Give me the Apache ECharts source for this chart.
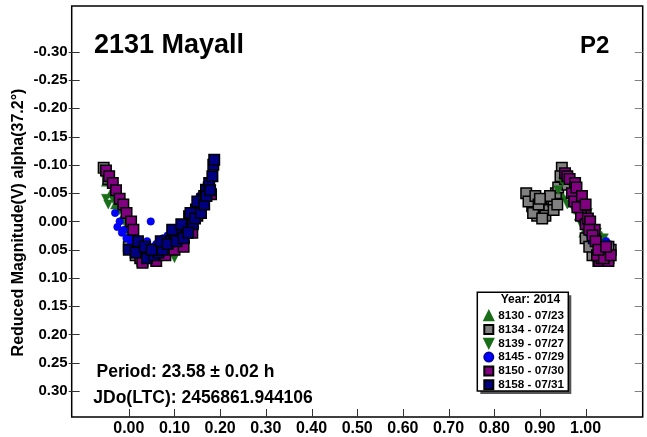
<!DOCTYPE html>
<html><head><meta charset="utf-8">
<script src="https://cdn.jsdelivr.net/npm/echarts@6/dist/echarts.min.js"></script>
<style>html,body{margin:0;padding:0;background:#fff}#c{width:647px;height:437px}</style>
</head><body><div id="c"></div>
<script>
const FONT = "'Liberation Sans', Arial, sans-serif";
const xTicks = [0.00, 0.10, 0.20, 0.30, 0.40, 0.50, 0.60, 0.70, 0.80, 0.90, 1.00];
const yTicks = [-0.30, -0.25, -0.20, -0.15, -0.10, -0.05, 0.00, 0.05, 0.10, 0.15, 0.20, 0.25, 0.30];
const seriesNames = ["8130 - 07/23", "8134 - 07/24", "8139 - 07/27", "8145 - 07/29", "8150 - 07/30", "8158 - 07/31"];

const s8130 = [[-0.05,-0.07],[-0.04,-0.05],[-0.03,-0.03],[-0.015,-0.005],[0.0,0.02],[0.01,0.04],[0.02,0.03],[0.03,0.05],[0.045,0.04],
  [0.935,-0.045],[0.945,-0.065],[0.955,-0.08],[0.965,-0.07],[0.975,-0.055],[0.985,-0.03],[0.995,-0.01],[1.005,0.01],[1.015,0.02],[1.025,0.035],[1.035,0.045],[1.045,0.04],
  [0.95,-0.045],[0.965,-0.05],[0.985,-0.01],[0.995,0.02],[1.005,0.03],[1.02,0.01],[1.035,0.025],[1.045,0.05]];
const s8134 = [[-0.055,-0.095],[-0.045,-0.075],[0.0,0.045],[0.015,0.06],[0.03,0.07],[0.045,0.06],
  [0.878,-0.04],[0.883,-0.027],[0.888,-0.035],[0.894,-0.01],[0.9,-0.02],[0.905,-0.015],[0.91,-0.025],[0.915,-0.03],[0.92,-0.02],[0.926,-0.04],[0.93,-0.035],[0.935,-0.05],[0.94,-0.06],[0.948,-0.095],[0.955,-0.075],
  [1.01,0.035],[1.02,0.05],[1.03,0.06],[1.04,0.055],[1.05,0.065],[1.055,0.05],
  [0.87,-0.05],[0.875,-0.035],[0.885,-0.015],[0.89,-0.045],[0.897,-0.03],[0.912,-0.01],[0.922,-0.045],[0.945,-0.08],[0.96,-0.065],[1.015,0.06],[1.025,0.04],[1.035,0.05],[1.045,0.06],[1.05,0.045],
  [1.0,0.03],[1.008,0.045],[1.018,0.03],[1.028,0.07],[0.9,-0.04],[0.905,-0.005],[0.93,-0.02],[0.938,-0.03]];
const s8139 = [[-0.055,-0.08],[-0.05,-0.04],[-0.045,-0.03],[-0.035,-0.04],[-0.02,-0.02],[-0.01,0.0],[0.005,0.025],[0.02,0.045],[0.085,0.06],[0.1,0.065],[0.095,0.05],
  [0.94,-0.055],[0.95,-0.07],[0.96,-0.03],[0.97,-0.06],[0.98,-0.045],[0.99,-0.02],[1.0,-0.005],[1.01,0.015],[1.02,0.03],[1.03,0.04],[1.04,0.03],
  [0.975,-0.02],[0.99,0.005],[1.005,-0.015],[1.025,0.02],[1.035,0.06]];
const s8145 = [[-0.03,-0.015],[-0.02,0.0],[-0.01,0.015],[0.0,0.03],[0.01,0.02],[0.02,0.055],[0.035,0.06],[0.048,0.0],[0.06,0.04],[0.07,0.055],[0.08,0.045],[0.09,0.05],[0.1,0.04],[0.11,0.03],[0.12,0.02],[0.13,0.01],[0.14,0.0],[0.15,-0.02],[0.16,-0.03],
  [-0.025,0.01],[-0.015,0.02],[-0.005,0.03],[0.005,0.04],[0.025,0.04],[0.04,0.035],[0.055,0.045],[0.075,0.03],[0.085,0.025],[0.105,0.015],[0.125,0.035],[0.135,-0.01],[0.145,0.01],[0.155,-0.045],[0.165,-0.055],
  [0.995,0.0],[1.0,0.01],[1.005,0.02],[1.01,0.025],[1.015,0.035],[1.02,0.04],[1.025,0.045],[1.03,0.055],[1.04,0.045],[1.045,0.035],[1.05,0.04]];
const s8150 = [[-0.05,-0.09],[-0.043,-0.08],[-0.035,-0.068],[-0.028,-0.055],[-0.02,-0.04],[-0.012,-0.03],[-0.005,-0.015],[0.005,0.0],[0.01,0.015],[0.025,0.065],[0.03,0.073],[0.06,0.07],[0.08,0.06],[0.1,0.05],[0.12,0.045],[0.139,0.02],[0.15,-0.01],[0.165,-0.045],[0.175,-0.06],[0.18,-0.048],
  [0.955,-0.085],[0.96,-0.08],[0.965,-0.075],[0.977,-0.068],[0.985,-0.045],[0.99,-0.035],[0.995,-0.02],[1.0,-0.01],[1.03,0.07],[1.035,0.065],[1.05,0.07],
  [0.97,-0.05],[0.975,-0.035],[0.98,-0.06],[0.99,-0.01],[1.0,0.005],[1.005,-0.005],[1.01,0.0],[1.02,0.015],[1.025,0.06],[1.04,0.065],[1.055,0.06],
  [0.982,-0.025],[0.992,-0.045],[1.0,-0.03],[1.008,0.015],[1.015,0.025],[1.022,0.035],[1.028,0.05],[1.045,0.045]];
const s8158 = [[0.0,0.05],[0.015,0.055],[0.04,0.065],[0.055,0.06],[0.065,0.055],[0.074,0.05],[0.09,0.035],[0.1,0.025],[0.11,0.02],[0.125,0.008],[0.132,-0.009],[0.14,0.005],[0.147,-0.021],[0.155,-0.03],[0.161,-0.039],[0.169,-0.056],[0.176,-0.068],[0.183,-0.08],[0.185,-0.1],[0.187,-0.109],
  [0.02,0.035],[0.035,0.045],[0.05,0.05],[0.07,0.035],[0.085,0.04],[0.095,0.015],[0.105,0.035],[0.115,0.005],[0.12,0.03],[0.13,0.02],[0.135,-0.015],[0.145,-0.005],[0.15,-0.035],[0.158,-0.015],[0.165,-0.03],[0.17,-0.045],[0.178,-0.055]];

const DOWN_TRI = 'path://M0,0 L10,0 L5,10 Z';
const styles = [
  {symbol:'triangle', size:9, color:'#1a6e1a', border:'#1a6e1a', bw:0.5},
  {symbol:'rect', size:10.5, color:'#808080', border:'#000', bw:1.5},
  {symbol:DOWN_TRI, size:9, color:'#1a6e1a', border:'#1a6e1a', bw:0.5},
  {symbol:'circle', size:7.5, color:'#0000ff', border:'#0000aa', bw:0.5},
  {symbol:'rect', size:10.5, color:'#800080', border:'#000', bw:1.5},
  {symbol:'rect', size:10.5, color:'#000080', border:'#000', bw:1.5}
];
const dataSets = [s8130, s8134, s8139, s8145, s8150, s8158];

const chart = echarts.init(document.getElementById('c'), null, {renderer:'canvas'});
const labelStyle = {fontFamily: FONT, fontWeight:'bold', color:'#000'};
const GRID = {left:71.7, top:6, right:4.3, bottom:19.3};
chart.setOption({
  animation:false,
  backgroundColor:'#fff',
  grid:{...GRID, show:true, borderColor:'#000', borderWidth:1.5, backgroundColor:'transparent'},
  xAxis:{type:'value', min:-0.125, max:1.125, position:'bottom',
     axisLine:{show:false, onZero:false}, splitLine:{show:false}, axisTick:{show:false},
     axisLabel:{show:true, customValues:xTicks, margin:4, fontSize:16, ...labelStyle, formatter:v=>v.toFixed(2)}},
  yAxis:{type:'value', inverse:true, min:-0.381, max:0.346, position:'left',
     axisLine:{show:false, onZero:false}, splitLine:{show:false}, axisTick:{show:false},
     axisLabel:{show:true, customValues:yTicks, margin:4, fontSize:15, ...labelStyle, formatter:v=>v.toFixed(2)}},
  legend:{orient:'vertical', left:483.3, top:309.7, padding:0, itemWidth:9, itemHeight:9, itemGap:1.8, z:20,
    data:seriesNames, textStyle:{fontFamily:FONT, fontWeight:'bold', fontSize:11.7, color:'#000', lineHeight:12}},
  series: seriesNames.map((n,i)=>({
    name:n, type:'scatter', data:dataSets[i], symbol:styles[i].symbol, symbolSize:styles[i].size,
    itemStyle:{color:styles[i].color, borderColor:styles[i].border, borderWidth:styles[i].bw, opacity:1},
    z:2+i
  }))
});

// tick marks placed through the axes' own scales
const gl = chart.convertToPixel({xAxisIndex:0}, -0.125);
const gr = chart.convertToPixel({xAxisIndex:0}, 1.125);
const gb = chart.convertToPixel({yAxisIndex:0}, 0.346);
const snap = v => Math.round(v) + 0.5;
const ticks = [];
xTicks.forEach(v => {
  const px = snap(chart.convertToPixel({xAxisIndex:0}, v));
  ticks.push({type:'line', shape:{x1:px, y1:gb, x2:px, y2:gb-8}, style:{stroke:'#333', lineWidth:1}, z:5});
});
yTicks.forEach(v => {
  const py = snap(chart.convertToPixel({yAxisIndex:0}, v));
  ticks.push({type:'line', shape:{x1:gl-3, y1:py, x2:gl+8, y2:py}, style:{stroke:'#333', lineWidth:1}, z:5});
  ticks.push({type:'line', shape:{x1:gr, y1:py, x2:gr-8, y2:py}, style:{stroke:'#808080', lineWidth:1}, z:5});
});
chart.setOption({graphic: ticks.concat([
    {type:'rect', shape:{x:480.3, y:295.3, width:91, height:98.7}, style:{fill:'#555'}, z:10},
    {type:'rect', shape:{x:477.3, y:292.3, width:91, height:98.7}, style:{fill:'#fff', stroke:'#000', lineWidth:1.5}, z:11},
    {type:'text', x:500.7, y:300, z:30, style:{text:'Year: 2014', font:'bold 12px '+FONT, fill:'#000', textVerticalAlign:'middle'}},
    {type:'text', x:94, y:46, z:30, style:{text:'2131 Mayall', font:'bold 27px '+FONT, fill:'#000', textVerticalAlign:'middle'}},
    {type:'text', x:580, y:46, z:30, style:{text:'P2', font:'bold 24px '+FONT, fill:'#000', textVerticalAlign:'middle'}},
    {type:'text', x:96.5, y:372, z:30, style:{text:'Period: 23.58 \u00b1 0.02 h', font:'bold 17.5px '+FONT, fill:'#000', textVerticalAlign:'middle'}},
    {type:'text', x:93.3, y:398, z:30, style:{text:'JDo(LTC): 2456861.944106', font:'bold 17.5px '+FONT, fill:'#000', textVerticalAlign:'middle'}},
    {type:'text', x:19, y:222.5, rotation:Math.PI/2, z:30, style:{text:'Reduced Magnitude(V) alpha(37.2\u00b0)', font:'bold 16px '+FONT, fill:'#000', textAlign:'center', textVerticalAlign:'middle'}}
  ])});
</script></body></html>
